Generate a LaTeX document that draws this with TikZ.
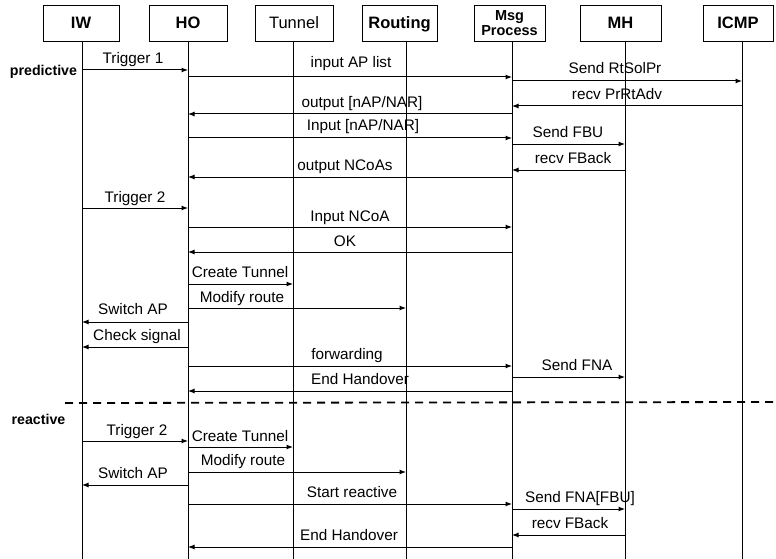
\documentclass[tikz,border=0pt]{standalone}
\usepackage{fontspec}
\setmainfont{Liberation Sans}
\usetikzlibrary{arrows.meta}
\begin{document}
\begin{tikzpicture}[x=1pt,y=-1pt,
  hbox/.style={draw, line width=0.7pt, minimum height=36pt, inner sep=0pt, text height=12pt, text depth=0pt, font=\fontsize{16.5}{18}\selectfont\bfseries},
  life/.style={line width=0.7pt},
  msg/.style={line width=1pt, -{Latex[length=6.5pt,width=5pt]}},
  lbl/.style={inner sep=0pt, font=\fontsize{15.3}{16}\selectfont, text height=11pt, text depth=3pt},
  phase/.style={inner sep=0pt, font=\fontsize{14.2}{15}\selectfont\bfseries}]
\useasboundingbox (0,0) rectangle (776,559);
% header boxes
\node[hbox, minimum width=76pt] (IWb) at (81,23) {IW};
\node[hbox, minimum width=78pt] (HOb) at (188,23) {HO};
\node[hbox, minimum width=78pt, font=\fontsize{16.5}{18}\selectfont] (TUb) at (294,23) {Tunnel};
\node[hbox, minimum width=75pt] (RTb) at (399.5,23) {Routing};
\node[draw, line width=0.7pt, minimum height=36pt, inner sep=0pt, minimum width=71pt, align=center, font=\fontsize{14.5}{15.5}\selectfont\bfseries] (MPb) at (509.5,23) {Msg\\Process};
\node[hbox, minimum width=81pt] (MHb) at (620.5,23) {MH};
\node[hbox, minimum width=70pt] (ICb) at (738,23) {ICMP};
% lifelines
\coordinate (IW) at (82,41);  \coordinate (IWe) at (82,559);
\coordinate (HO) at (188,41); \coordinate (HOe) at (188,559);
\coordinate (TU) at (293,41); \coordinate (TUe) at (293,559);
\coordinate (RT) at (406,41); \coordinate (RTe) at (406,559);
\coordinate (MP) at (512,41); \coordinate (MPe) at (512,559);
\coordinate (MH) at (625,41); \coordinate (MHe) at (625,559);
\coordinate (IC) at (742,41); \coordinate (ICe) at (742,559);
\foreach \a/\b in {IW/IWe,HO/HOe,TU/TUe,RT/RTe,MP/MPe,MH/MHe,IC/ICe}
  \draw[life] (\a) -- (\b);
% phase labels
\node[phase] (pred) at (43.5,72) {predictive};
\node[phase] (reac) at (38.5,419) {reactive};
% predictive messages
\draw[msg] (IW |- 0,70) -- (HO |- 0,70);
\node[lbl] (m1) at (133,60) {Trigger 1};
\draw[msg] (HO |- 0,77) -- (MP |- 0,77);
\node[lbl] (m2) at (351,64) {input AP list};
\draw[msg] (MP |- 0,81) -- (IC |- 0,81);
\node[lbl] (m3) at (615,70) {Send RtSolPr};
\draw[msg] (IC |- 0,106) -- (MP |- 0,106);
\node[lbl] (m4) at (617,96) {recv PrRtAdv};
\draw[msg] (MP |- 0,114) -- (HO |- 0,114);
\node[lbl] (m5) at (362,104) {output [nAP/NAR]};
\draw[msg] (HO |- 0,138) -- (MP |- 0,138);
\node[lbl] (m6) at (363,127) {Input [nAP/NAR]};
\draw[msg] (MP |- 0,144) -- (MH |- 0,144);
\node[lbl] (m7) at (568,134) {Send FBU};
\draw[msg] (MH |- 0,170) -- (MP |- 0,170);
\node[lbl] (m8) at (573,159) {recv FBack};
\draw[msg] (MP |- 0,177) -- (HO |- 0,177);
\node[lbl] (m9) at (345,166) {output NCoAs};
\draw[msg] (IW |- 0,208) -- (HO |- 0,208);
\node[lbl] (m10) at (135,198) {Trigger 2};
\draw[msg] (HO |- 0,227) -- (MP |- 0,227);
\node[lbl] (m11) at (350,217) {Input NCoA};
\draw[msg] (MP |- 0,252) -- (HO |- 0,252);
\node[lbl] (m12) at (345,242) {OK};
\draw[msg] (HO |- 0,284) -- (TU |- 0,284);
\node[lbl] (m13) at (240,273) {Create Tunnel};
\draw[msg] (HO |- 0,308) -- (RT |- 0,308);
\node[lbl] (m14) at (242,298) {Modify route};
\draw[msg] (HO |- 0,322) -- (IW |- 0,322);
\node[lbl] (m15) at (133,310) {Switch AP};
\draw[msg] (HO |- 0,347) -- (IW |- 0,347);
\node[lbl] (m16) at (137,336) {Check signal};
\draw[msg] (HO |- 0,366) -- (MP |- 0,366);
\node[lbl] (m17) at (347,355) {forwarding};
\draw[msg] (MP |- 0,377) -- (MH |- 0,377);
\node[lbl] (m18) at (577,366) {Send FNA};
\draw[msg] (MP |- 0,391) -- (HO |- 0,391);
\node[lbl] (m19) at (360,380) {End Handover};
% separator
\coordinate (dl) at (65,403); \coordinate (dr) at (776,402);
\draw[line width=1.8pt, dash pattern=on 8pt off 6pt] (dl) -- (dr);
% reactive messages
\draw[msg] (IW |- 0,441) -- (HO |- 0,441);
\node[lbl] (r1) at (137,431) {Trigger 2};
\draw[msg] (HO |- 0,447) -- (TU |- 0,447);
\node[lbl] (r2) at (240,437) {Create Tunnel};
\draw[msg] (HO |- 0,472) -- (RT |- 0,472);
\node[lbl] (r3) at (243,461) {Modify route};
\draw[msg] (HO |- 0,485) -- (IW |- 0,485);
\node[lbl] (r4) at (133,474) {Switch AP};
\draw[msg] (HO |- 0,504) -- (MP |- 0,504);
\node[lbl] (r5) at (352,493) {Start reactive};
\draw[msg] (MP |- 0,509) -- (MH |- 0,509);
\node[lbl] (r6) at (580,498) {Send FNA[FBU]};
\draw[msg] (MH |- 0,535) -- (MP |- 0,535);
\node[lbl] (r7) at (570,524) {recv FBack};
\draw[msg] (MP |- 0,547) -- (HO |- 0,547);
\node[lbl] (r8) at (349,536) {End Handover};
\end{tikzpicture}
\end{document}
